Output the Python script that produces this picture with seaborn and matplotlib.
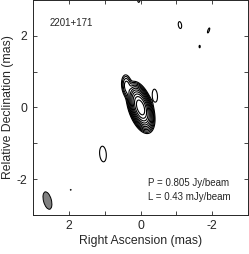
import numpy as np
import matplotlib
matplotlib.use("Agg")
import matplotlib.pyplot as plt
import seaborn as sns
from matplotlib.patches import Ellipse
from matplotlib.ticker import MultipleLocator

# source model: gaussian components (RA, Dec in mas, peak Jy/beam, FWHM maj/min mas, PA deg)
comp_ra = [0.0, 0.38, -0.40, 1.05, -1.10, -1.90, -1.65, 0.05, 1.95]
comp_dec = [0.0, 0.58, 0.33, -1.30, 2.30, 2.15, 1.70, 3.02, -2.30]
comp_peak = [0.805, 0.006, 0.0007, 0.0007, 0.0006, 0.00055, 0.0005, 0.0006, 0.00045]
comp_maj = [0.46, 0.34, 0.43, 0.52, 0.28, 0.25, 0.15, 0.25, 0.08]
comp_min = [0.21, 0.15, 0.17, 0.22, 0.13, 0.07, 0.07, 0.10, 0.08]
comp_pa = [18, 8, 5, 5, 10, -20, 0, 0, 0]

peak = 0.805       # Jy/beam
lowest = 0.43e-3   # Jy/beam
n_levels = 11

beam_ra, beam_dec = 2.6, -2.6
beam_maj, beam_min, beam_pa = 0.50, 0.22, 15

sns.set_style("ticks")
plt.rcParams['font.family'] = ['Liberation Sans', 'DejaVu Sans']
plt.rcParams['axes.unicode_minus'] = False

ra = np.linspace(-3.2, 3.2, 641)
dec = np.linspace(-3.2, 3.2, 641)
RA, DEC = np.meshgrid(ra, dec)
img = np.zeros_like(RA)
k = 4 * np.log(2)
for x0, y0, a, mj, mn, pa in zip(comp_ra, comp_dec, comp_peak, comp_maj, comp_min, comp_pa):
    t = np.deg2rad(pa)
    dx, dy = RA - x0, DEC - y0
    u = dx * np.sin(t) + dy * np.cos(t)   # along major axis
    v = dx * np.cos(t) - dy * np.sin(t)
    img += a * np.exp(-k * ((u / mj) ** 2 + (v / mn) ** 2))

levels = lowest * 2.0 ** np.arange(n_levels)

fig = plt.figure(figsize=(2.49, 2.54), dpi=100)
ax = fig.add_axes([0.133, 0.154, 0.863, 0.846])
ax.contour(RA, DEC, img, levels=levels, colors='black', linewidths=0.8)

ax.add_patch(Ellipse((beam_ra, beam_dec), beam_min, beam_maj, angle=-beam_pa,
                     facecolor='#808080', edgecolor='black', linewidth=0.7))

ax.set_xlim(3, -3)
ax.set_ylim(-3, 3)
ax.set_aspect('auto')
ax.xaxis.set_major_locator(MultipleLocator(2))
ax.yaxis.set_major_locator(MultipleLocator(2))
ax.xaxis.set_minor_locator(MultipleLocator(1))
ax.yaxis.set_minor_locator(MultipleLocator(1))
ax.tick_params(which='both', direction='in', top=True, right=True,
               length=3, width=0.6, labelsize=8.8, pad=4)
for s in ax.spines.values():
    s.set_linewidth(0.7)

ax.set_xlabel('Right Ascension (mas)', fontsize=8.8, labelpad=2)
ax.set_ylabel('Relative Declination (mas)', fontsize=8.8, labelpad=2)

ax.text(2.55, 2.35, '2201+171', fontsize=7, va='center', ha='left')
ax.text(-0.2, -2.1, 'P = 0.805 Jy/beam', fontsize=7, va='center', ha='left')
ax.text(-0.2, -2.5, 'L = 0.43 mJy/beam', fontsize=7, va='center', ha='left')

fig.savefig('out.png', dpi=100)
